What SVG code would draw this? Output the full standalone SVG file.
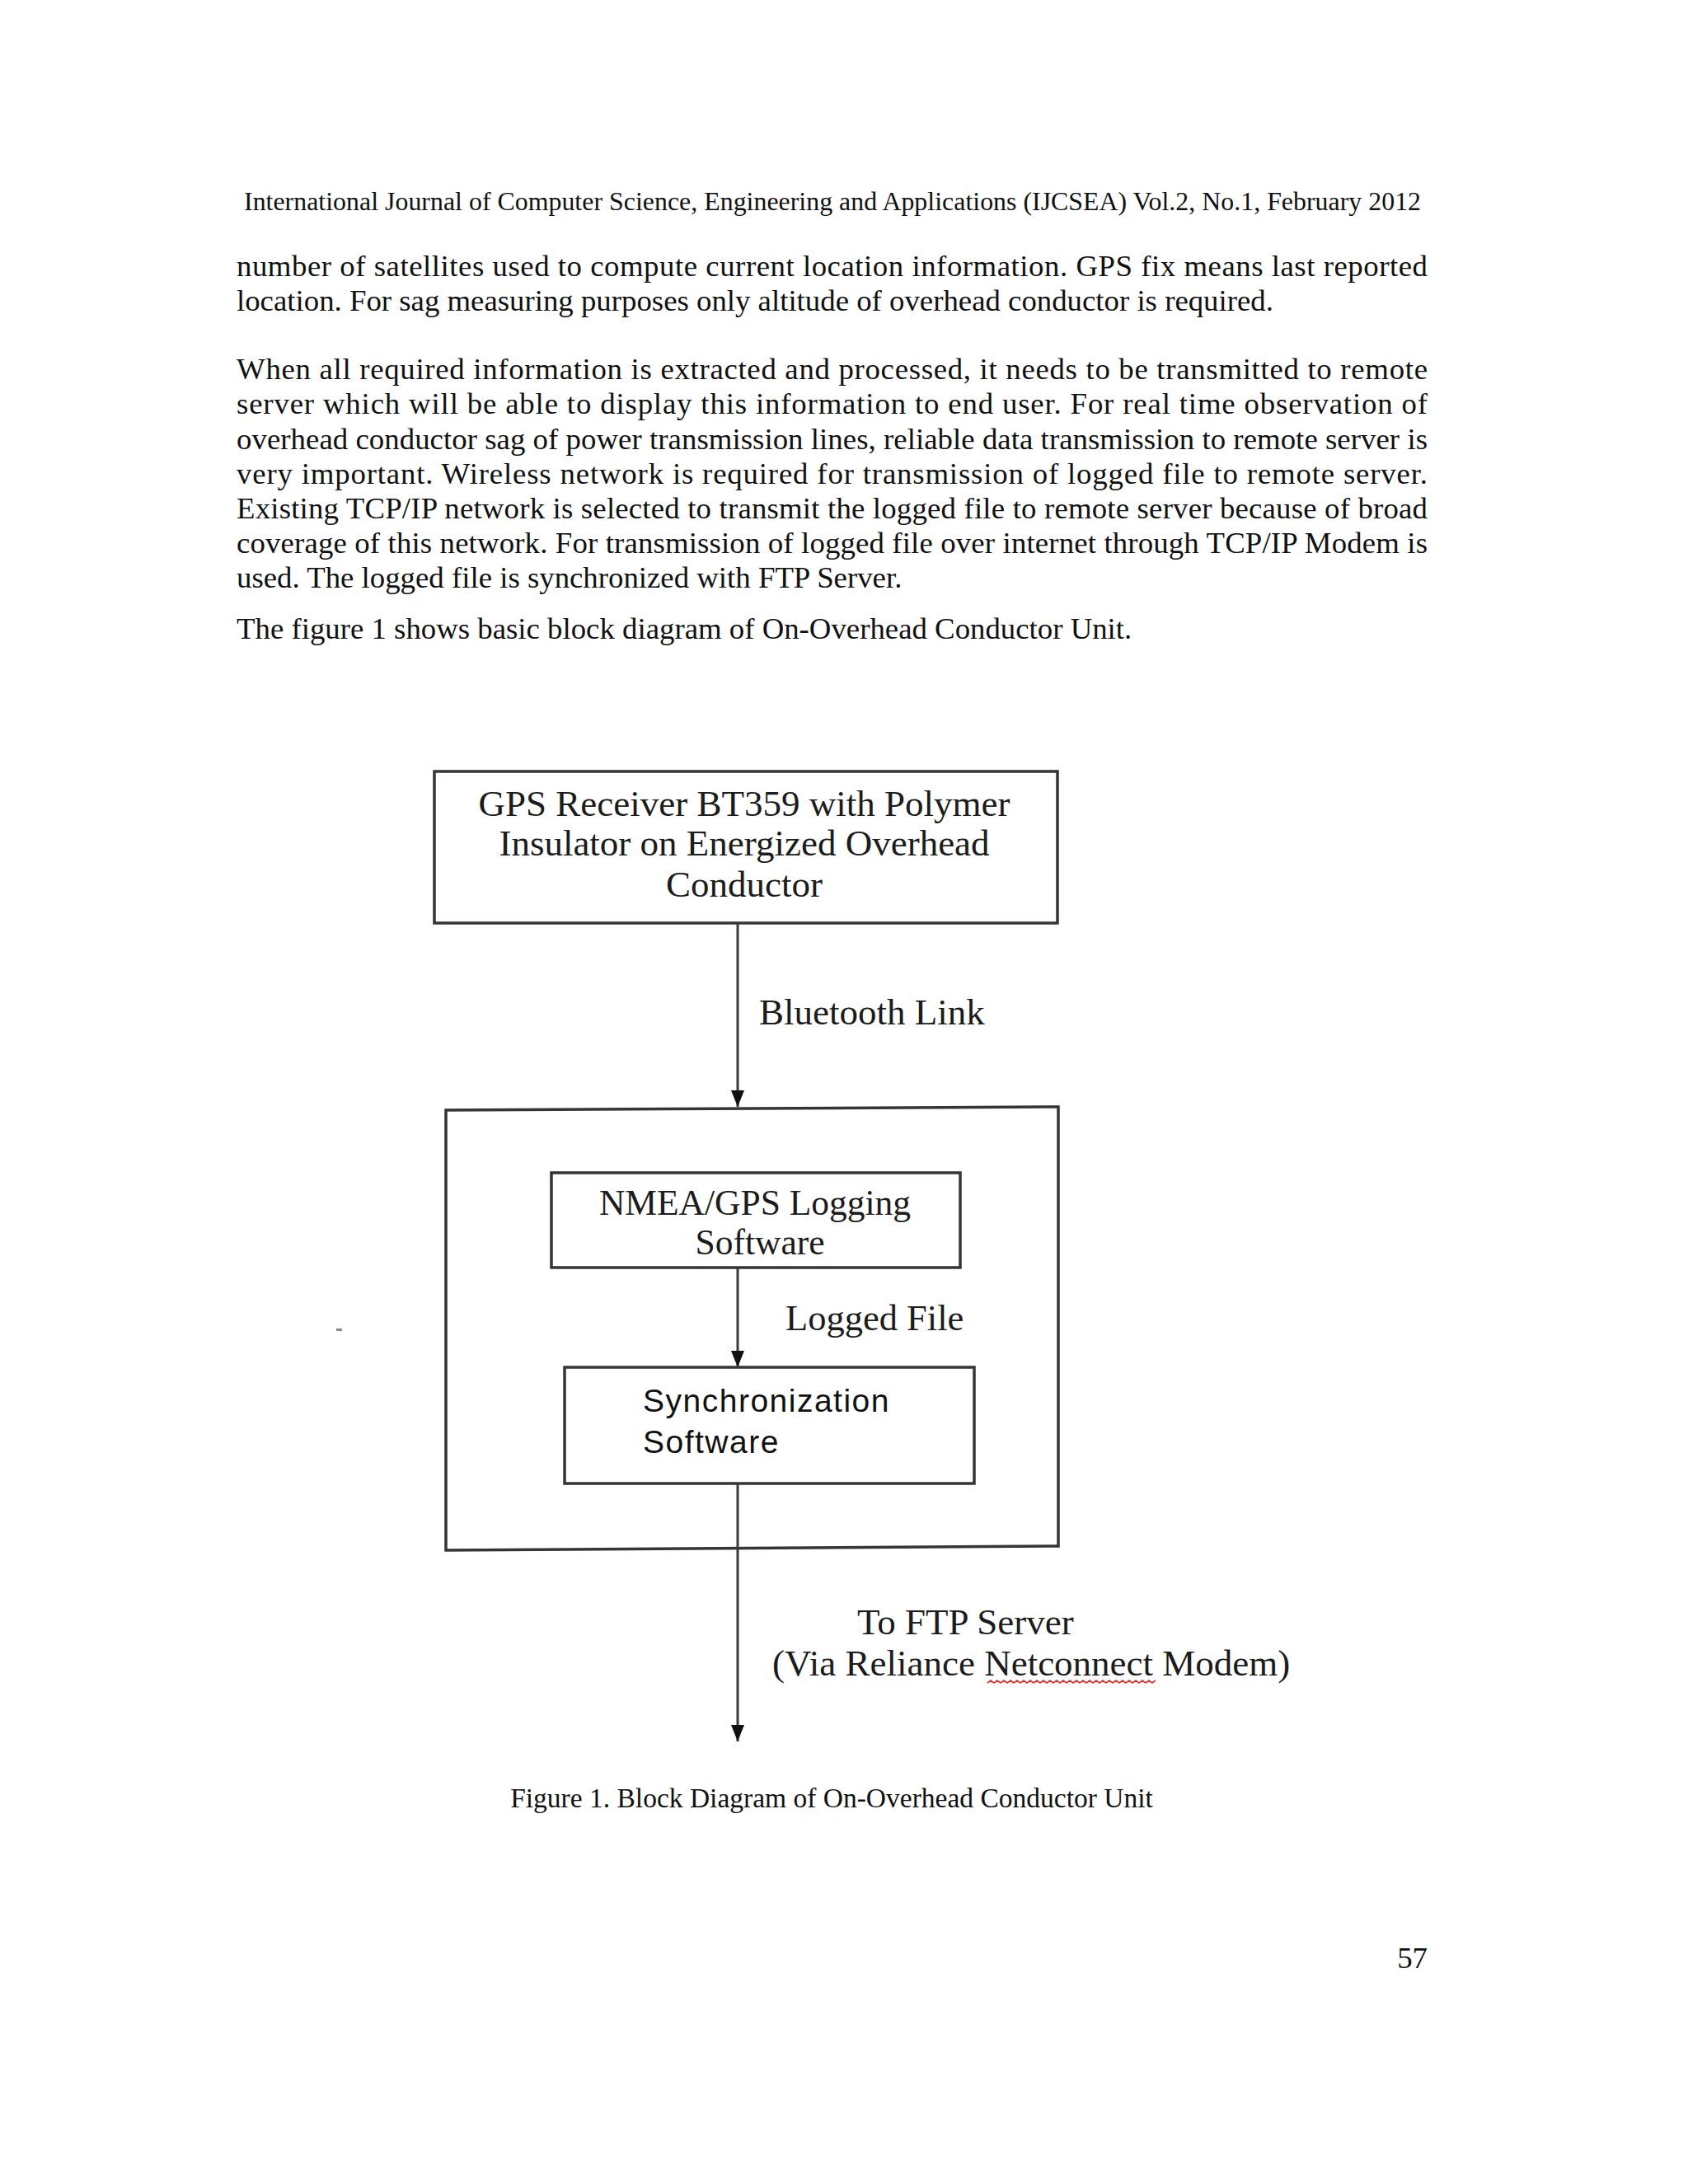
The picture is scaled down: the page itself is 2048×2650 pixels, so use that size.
<svg xmlns="http://www.w3.org/2000/svg" width="2048" height="2650" viewBox="0 0 2048 2650">
<style>
.pg{font-family:"Liberation Serif","Times New Roman",serif;fill:#111}
.hd{font-size:31.8px}
.bd{font-size:36.8px}
.cap{font-size:33.5px}
.box{fill:none;stroke:#353535;stroke-width:3.5}
.dg{font-family:"Liberation Serif","Times New Roman",serif;font-size:45px;fill:#1c1c1c}
.ss{font-family:"Liberation Sans",Arial,sans-serif;font-size:39px;fill:#111;letter-spacing:1.5px}
.cn{fill:none;stroke:#3a3a3a;stroke-width:3}
</style>
<defs>
<marker id="ah" viewBox="0 0 20 16" refX="20" refY="8" markerWidth="20" markerHeight="16" markerUnits="userSpaceOnUse" orient="auto">
<path d="M0,0 L20,8 L0,16 z" fill="#111"/>
</marker>
</defs>
<rect width="2048" height="2650" fill="#ffffff"/>

<g id="page-text" class="pg">
<text class="hd" x="296" y="255" textLength="1428">International Journal of Computer Science, Engineering and Applications (IJCSEA) Vol.2, No.1, February 2012</text>
<text class="bd" x="287" y="335" textLength="1445">number of satellites used to compute current location information. GPS fix means last reported</text>
<text class="bd" x="287" y="377">location. For sag measuring purposes only altitude of overhead conductor is required.</text>
<text class="bd" x="287" y="460" textLength="1445">When all required information is extracted and processed, it needs to be transmitted to remote</text>
<text class="bd" x="287" y="502" textLength="1445">server which will be able to display this information to end user. For real time observation of</text>
<text class="bd" x="287" y="545" textLength="1445">overhead conductor sag of power transmission lines, reliable data transmission to remote server is</text>
<text class="bd" x="287" y="587" textLength="1445">very important. Wireless network is required for transmission of logged file to remote server.</text>
<text class="bd" x="287" y="629" textLength="1445">Existing TCP/IP network is selected to transmit the logged file to remote server because of broad</text>
<text class="bd" x="287" y="671" textLength="1445">coverage of this network. For transmission of logged file over internet through TCP/IP Modem is</text>
<text class="bd" x="287" y="713">used. The logged file is synchronized with FTP Server.</text>
<text class="bd" x="287" y="775">The figure 1 shows basic block diagram of On-Overhead Conductor Unit.</text>
<text class="cap" x="1009" y="2193" text-anchor="middle">Figure 1. Block Diagram of On-Overhead Conductor Unit</text>
<text class="bd" x="1732" y="2388" text-anchor="end">57</text>
</g>

<rect x="408" y="1612" width="7" height="3" fill="#8f8a78"/>

<g id="connectors">
<line class="cn" x1="895" y1="1120" x2="895" y2="1343" marker-end="url(#ah)"/>
<line class="cn" x1="895" y1="1538" x2="895" y2="1659" marker-end="url(#ah)"/>
<line class="cn" x1="895" y1="1800" x2="895" y2="2113" marker-end="url(#ah)"/>
</g>

<g id="gps-receiver">
<rect class="box" x="527" y="936" width="756" height="184"/>
<text class="dg" x="903" y="990" text-anchor="middle">GPS Receiver BT359 with Polymer</text>
<text class="dg" x="903" y="1038" text-anchor="middle">Insulator on Energized Overhead</text>
<text class="dg" x="903" y="1088" text-anchor="middle">Conductor</text>
</g>

<g id="bluetooth-label">
<text class="dg" x="921" y="1243">Bluetooth Link</text>
</g>

<g id="unit-container">
<path class="box" d="M541,1347 L1284,1343 L1284,1876 L541,1881 Z"/>
</g>

<g id="nmea-logging">
<rect class="box" x="669" y="1423" width="496" height="115"/>
<text class="dg" x="916" y="1474" text-anchor="middle" style="font-size:43.5px">NMEA/GPS Logging</text>
<text class="dg" x="922" y="1522" text-anchor="middle" style="font-size:43.5px">Software</text>
</g>

<g id="logged-file-label">
<text class="dg" x="953" y="1614" style="font-size:44.5px">Logged File</text>
</g>

<g id="sync-software">
<rect class="box" x="685" y="1659" width="497" height="141"/>
<text class="ss" x="780" y="1713">Synchronization</text>
<text class="ss" x="780" y="1763">Software</text>
</g>

<g id="ftp-label">
<text class="dg" x="1040" y="1983">To FTP Server</text>
<text class="dg" x="937" y="2033">(Via Reliance Netconnect Modem)</text>
<path d="M1198,2042 l4,-3 l4,3 l4,-3 l4,3 l4,-3 l4,3 l4,-3 l4,3 l4,-3 l4,3 l4,-3 l4,3 l4,-3 l4,3 l4,-3 l4,3 l4,-3 l4,3 l4,-3 l4,3 l4,-3 l4,3 l4,-3 l4,3 l4,-3 l4,3 l4,-3 l4,3 l4,-3 l4,3 l4,-3 l4,3 l4,-3 l4,3 l4,-3 l4,3 l4,-3 l4,3 l4,-3 l4,3 l4,-3 l4,3 l4,-3 l4,3 l4,-3 l4,3 l4,-3 l4,3 l4,-3 l4,3 l4,-3" fill="none" stroke="#e03030" stroke-width="1.6"/>
</g>
</svg>
